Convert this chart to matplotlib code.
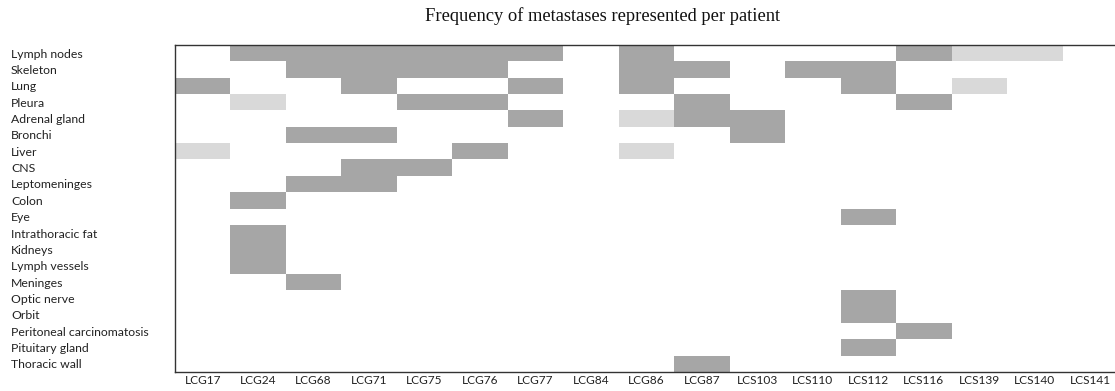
import numpy as np
import matplotlib
matplotlib.use("Agg")
import matplotlib.pyplot as plt
from matplotlib.colors import ListedColormap, BoundaryNorm

patients = ["LCG17", "LCG24", "LCG68", "LCG71", "LCG75", "LCG76", "LCG77", "LCG84",
            "LCG86", "LCG87", "LCS103", "LCS110", "LCS112", "LCS116", "LCS139",
            "LCS140", "LCS141"]
sites = ["Lymph nodes", "Skeleton", "Lung", "Pleura", "Adrenal gland", "Bronchi",
         "Liver", "CNS", "Leptomeninges", "Colon", "Eye", "Intrathoracic fat",
         "Kidneys", "Lymph vessels", "Meninges", "Optic nerve", "Orbit",
         "Peritoneal carcinomatosis", "Pituitary gland", "Thoracic wall"]

# 0 = none, 1 = light (lower frequency), 2 = dark (higher frequency)
# one row per site, columns in patient order
lymph_nodes   = [0, 2, 2, 2, 2, 2, 2, 0, 2, 0, 0, 0, 0, 2, 1, 1, 0]
skeleton      = [0, 0, 2, 2, 2, 2, 0, 0, 2, 2, 0, 2, 2, 0, 0, 0, 0]
lung          = [2, 0, 0, 2, 0, 0, 2, 0, 2, 0, 0, 0, 2, 0, 1, 0, 0]
pleura        = [0, 1, 0, 0, 2, 2, 0, 0, 0, 2, 0, 0, 0, 2, 0, 0, 0]
adrenal_gland = [0, 0, 0, 0, 0, 0, 2, 0, 1, 2, 2, 0, 0, 0, 0, 0, 0]
bronchi       = [0, 0, 2, 2, 0, 0, 0, 0, 0, 0, 2, 0, 0, 0, 0, 0, 0]
liver         = [1, 0, 0, 0, 0, 2, 0, 0, 1, 0, 0, 0, 0, 0, 0, 0, 0]
cns           = [0, 0, 0, 2, 2, 0, 0, 0, 0, 0, 0, 0, 0, 0, 0, 0, 0]
leptomeninges = [0, 0, 2, 2, 0, 0, 0, 0, 0, 0, 0, 0, 0, 0, 0, 0, 0]
colon         = [0, 2, 0, 0, 0, 0, 0, 0, 0, 0, 0, 0, 0, 0, 0, 0, 0]
eye           = [0, 0, 0, 0, 0, 0, 0, 0, 0, 0, 0, 0, 2, 0, 0, 0, 0]
intrathoracic = [0, 2, 0, 0, 0, 0, 0, 0, 0, 0, 0, 0, 0, 0, 0, 0, 0]
kidneys       = [0, 2, 0, 0, 0, 0, 0, 0, 0, 0, 0, 0, 0, 0, 0, 0, 0]
lymph_vessels = [0, 2, 0, 0, 0, 0, 0, 0, 0, 0, 0, 0, 0, 0, 0, 0, 0]
meninges      = [0, 0, 2, 0, 0, 0, 0, 0, 0, 0, 0, 0, 0, 0, 0, 0, 0]
optic_nerve   = [0, 0, 0, 0, 0, 0, 0, 0, 0, 0, 0, 0, 2, 0, 0, 0, 0]
orbit         = [0, 0, 0, 0, 0, 0, 0, 0, 0, 0, 0, 0, 2, 0, 0, 0, 0]
peritoneal    = [0, 0, 0, 0, 0, 0, 0, 0, 0, 0, 0, 0, 0, 2, 0, 0, 0]
pituitary     = [0, 0, 0, 0, 0, 0, 0, 0, 0, 0, 0, 0, 2, 0, 0, 0, 0]
thoracic_wall = [0, 0, 0, 0, 0, 0, 0, 0, 0, 2, 0, 0, 0, 0, 0, 0, 0]

values = np.array([lymph_nodes, skeleton, lung, pleura, adrenal_gland, bronchi,
                   liver, cns, leptomeninges, colon, eye, intrathoracic, kidneys,
                   lymph_vessels, meninges, optic_nerve, orbit, peritoneal,
                   pituitary, thoracic_wall])

title = "Frequency of metastases represented per patient"

W, H = 1115, 391
fig = plt.figure(figsize=(W / 100, H / 100), dpi=100)
ax = fig.add_axes([175 / W, (H - 372) / H, 943 / W, 327 / H])

cmap = ListedColormap(["#ffffff", "#d9d9d9", "#a6a6a6"])
norm = BoundaryNorm([-0.5, 0.5, 1.5, 2.5], cmap.N)
ax.pcolormesh(np.arange(len(patients) + 1), np.arange(len(sites) + 1), values,
              cmap=cmap, norm=norm, edgecolors="none")
ax.set_xlim(0, len(patients))
ax.set_ylim(len(sites), 0)

ax.set_xticks(np.arange(len(patients)) + 0.5)
ax.set_xticklabels(patients, fontsize=8.6, family="Lato", color="#222222")
ax.set_yticks(np.arange(len(sites)) + 0.5)
ax.set_yticklabels(sites, fontsize=8.8, family="Lato", color="#222222", ha="left")
ax.tick_params(axis="y", length=0, pad=(175 - 11) * 0.72)
ax.tick_params(axis="x", length=0, pad=2.5)

for s in ["left", "top", "bottom"]:
    ax.spines[s].set_color("#333333")
    ax.spines[s].set_linewidth(1.0)
ax.spines["right"].set_visible(False)

fig.text(603 / W, 1 - 16 / H, title, ha="center", va="center",
         family="Liberation Serif", fontsize=13.3, color="#111111")

fig.savefig("out.png", dpi=100)
